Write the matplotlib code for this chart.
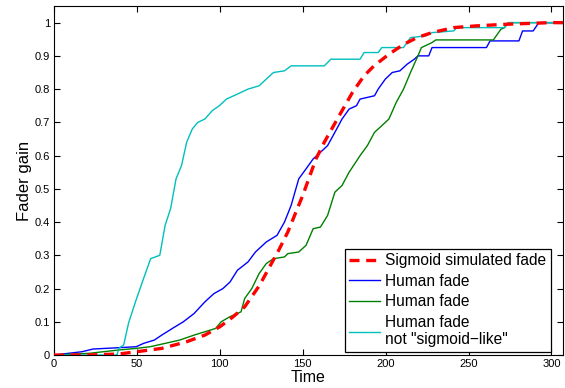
import matplotlib
matplotlib.use("Agg")
import matplotlib.pyplot as plt

plt.rcParams['font.family'] = ['Liberation Sans', 'DejaVu Sans']

# Sigmoid simulated fade
sig_t = [0, 20, 39, 50, 65, 80, 91, 100, 108, 115, 124, 130, 135, 141, 150, 158,
         163, 172, 180, 187, 193, 202, 211, 219, 228, 241, 254, 272, 300, 307]
sig_g = [0.0, 0.0, 0.003, 0.01, 0.02, 0.04, 0.06, 0.085, 0.115, 0.145, 0.21, 0.265,
         0.31, 0.37, 0.48, 0.59, 0.64, 0.72, 0.79, 0.84, 0.87, 0.905, 0.935, 0.955,
         0.97, 0.985, 0.99, 0.995, 1.0, 1.0]

# Human fade 1 (blue)
blue_t = [0, 17, 23.5, 38.8, 49.6, 54, 60.5, 65, 71.4, 78, 84.5, 91, 96.5, 101.9,
          106.2, 110.6, 117, 121.5, 128, 134.5, 139, 143, 147.6, 152, 156.3, 160.7,
          165, 169.4, 173.7, 178, 182.4, 184.6, 193.3, 195.5, 199.8, 204, 208.6, 213,
          217.3, 219.5, 226, 228, 260.8, 263, 280.4, 282.6, 289, 292.4, 307]
blue_g = [0.0, 0.01, 0.018, 0.022, 0.025, 0.035, 0.045, 0.06, 0.08, 0.10, 0.125,
          0.16, 0.185, 0.20, 0.22, 0.255, 0.28, 0.31, 0.34, 0.36, 0.40, 0.45, 0.53,
          0.56, 0.59, 0.61, 0.63, 0.67, 0.71, 0.74, 0.75, 0.77, 0.78, 0.80, 0.83,
          0.85, 0.855, 0.875, 0.89, 0.90, 0.90, 0.925, 0.925, 0.945, 0.945, 0.975,
          0.975, 1.0, 1.0]

# Human fade 2 (green)
green_t = [0, 21, 38.8, 49.6, 58, 67, 75.8, 84.5, 91, 97.5, 100.8, 106, 112.8, 115,
           119.3, 123.7, 128, 132.4, 139, 141, 147.6, 152, 156.3, 160.7, 165, 169.4,
           173.7, 178, 184.6, 189, 193.3, 197.7, 202, 206.4, 210.8, 215, 219.5, 221.6,
           228, 230.3, 265, 269.5, 271.7, 274, 307]
green_g = [0.0, 0.005, 0.015, 0.02, 0.025, 0.035, 0.045, 0.06, 0.07, 0.08, 0.10,
           0.115, 0.13, 0.17, 0.20, 0.245, 0.275, 0.29, 0.295, 0.305, 0.31, 0.33,
           0.38, 0.385, 0.42, 0.49, 0.51, 0.55, 0.60, 0.63, 0.67, 0.69, 0.71, 0.76,
           0.80, 0.85, 0.90, 0.925, 0.94, 0.948, 0.948, 0.98, 0.985, 1.0, 1.0]

# Human fade, not sigmoid-like (cyan)
cyan_t = [0, 38, 39, 42, 45, 49.6, 54, 58.3, 63.8, 67, 70.3, 73.6, 76.9, 80, 83.4,
          86.7, 91, 95.4, 99.7, 104, 110.6, 117, 123.7, 128, 132.4, 139, 143, 163,
          167, 184.6, 187, 195.5, 197.7, 210.8, 215, 224, 228, 241, 243, 271.7, 274, 307]
cyan_g = [0.0, 0.0, 0.02, 0.03, 0.097, 0.167, 0.23, 0.29, 0.30, 0.39, 0.44, 0.53,
          0.57, 0.64, 0.68, 0.70, 0.71, 0.735, 0.75, 0.77, 0.785, 0.80, 0.81, 0.83,
          0.85, 0.855, 0.87, 0.87, 0.89, 0.89, 0.91, 0.91, 0.925, 0.925, 0.955, 0.96,
          0.97, 0.975, 0.985, 0.985, 1.0, 1.0]

fig = plt.figure(figsize=(5.65, 3.88), dpi=100)
ax = fig.add_axes([0.0956, 0.085, 0.9009, 0.8995])

ax.plot(sig_t, sig_g, color="#ff0000", linestyle="--", linewidth=2.4,
        dashes=(3, 2), label="Sigmoid simulated fade", zorder=5)
ax.plot(blue_t, blue_g, color="#0000ff", linewidth=1.0, label="Human fade")
ax.plot(green_t, green_g, color="#008000", linewidth=1.0, label="Human fade")
ax.plot(cyan_t, cyan_g, color="#00bfbf", linewidth=1.0,
        label='Human fade\nnot "sigmoid\u2212like"')

ax.set_xlim(0, 307)
ax.set_ylim(0, 1.05)
ax.set_xticks([0, 50, 100, 150, 200, 250, 300])
ax.set_yticks([0, 0.1, 0.2, 0.3, 0.4, 0.5, 0.6, 0.7, 0.8, 0.9, 1.0])
ax.set_yticklabels(["0", "0.1", "0.2", "0.3", "0.4", "0.5", "0.6", "0.7", "0.8", "0.9", "1"])
ax.tick_params(direction="in", top=True, right=True, length=4, width=0.8,
               labelsize=8, pad=3)
for s in ax.spines.values():
    s.set_linewidth(0.8)

ax.set_xlabel("Time", fontsize=11.5, labelpad=0.5)
ax.set_ylabel("Fader gain", fontsize=12, labelpad=2)

leg = ax.legend(loc="lower right", bbox_to_anchor=(0.976, 0.009), fontsize=11.2,
                fancybox=False, edgecolor="black", framealpha=1,
                handlelength=2.0, handletextpad=0.3, borderpad=0.3,
                labelspacing=0.35, borderaxespad=0)
leg.get_frame().set_linewidth(0.9)

plt.savefig("out.png", dpi=100)
